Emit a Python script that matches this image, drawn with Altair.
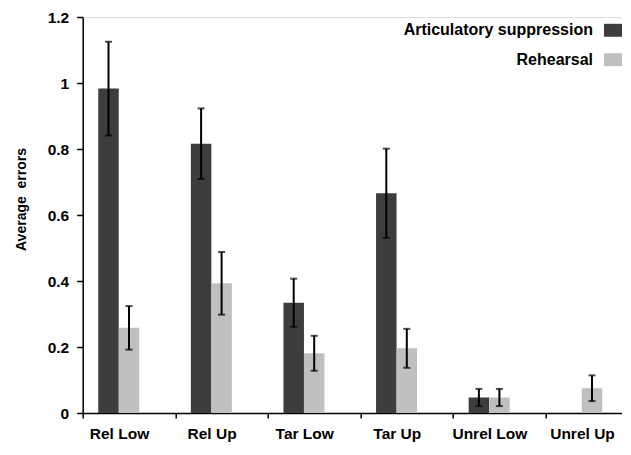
import altair as alt
import pandas as pd

categories = ["Rel Low", "Rel Up", "Tar Low", "Tar Up", "Unrel Low", "Unrel Up"]
conditions = ["Articulatory suppression", "Rehearsal"]
as_means = [0.983, 0.816, 0.334, 0.666, 0.047, None]
as_errs = [0.142, 0.107, 0.073, 0.135, 0.026, None]
reh_means = [0.258, 0.393, 0.181, 0.196, 0.047, 0.075]
reh_errs = [0.066, 0.095, 0.053, 0.059, 0.026, 0.039]
colors = ["#3d3d3d", "#bfbfbf"]
y_ticks = [0, 0.2, 0.4, 0.6, 0.8, 1.0, 1.2]

rows = []
for i, c in enumerate(categories):
    if as_means[i] is not None:
        rows.append({"cat": c, "cond": conditions[0], "mean": as_means[i], "err": as_errs[i]})
    if reh_means[i] is not None:
        rows.append({"cat": c, "cond": conditions[1], "mean": reh_means[i], "err": reh_errs[i]})
df = pd.DataFrame(rows)

FONT = "Liberation Sans"

x_enc = alt.X(
    "cat:N",
    sort=categories,
    # the original's last category runs past the right edge of the picture
    scale=alt.Scale(paddingInner=0, paddingOuter=0, range=[0, 555.6]),
    axis=alt.Axis(
        title=None,
        ticks=True,
        tickBand="extent",
        labelOffset={"expr": "-10"},
        labelAngle=0,
        labelPadding=8,
        tickSize=5,
        tickColor="black",
        tickWidth=1.5,
        domainColor="black",
        domainWidth=1.5,
        labelFont=FONT,
        labelFontSize=15.5,
        labelFontWeight="bold",
        labelColor="black",
        labelOverlap=False,
        labelBound=False,
    ),
)
# an empty third slot after the two bars leaves the gap that the original has
xo_enc = alt.XOffset(
    "cond:N",
    scale=alt.Scale(domain=conditions + ["_gap"], paddingInner=0, paddingOuter=0.7585),
)
y_enc = alt.Y(
    "mean:Q",
    scale=alt.Scale(domain=[0, 1.2], nice=False),
    axis=alt.Axis(
        title="Average\u00a0\u00a0errors",
        values=y_ticks,
        format="~g",
        grid=False,
        tickSize=6,
        tickColor="black",
        tickWidth=1.5,
        domainColor="black",
        domainWidth=1.5,
        labelFont=FONT,
        labelFontSize=15.5,
        labelFontWeight="bold",
        labelColor="black",
        labelPadding=8,
        titleFont=FONT,
        titleFontSize=14,
        titleFontWeight="bold",
        titleColor="black",
        titlePadding=19,
        titleY=182,
    ),
)

bars = alt.Chart(df).mark_bar().encode(
    x=x_enc,
    xOffset=xo_enc,
    y=y_enc,
    color=alt.Color(
        "cond:N",
        scale=alt.Scale(domain=conditions, range=colors),
        legend=alt.Legend(
            title=None,
            orient="none",
            legendX=521.3,
            legendY=4.3,
            padding=0,
            symbolType="M-1,-0.72H1V0.72H-1Z",
            symbolSize=324,
            symbolStrokeWidth=0,
            symbolOpacity=1,
            labelAlign="right",
            labelOffset={"expr": "-29"},
            labelFont=FONT,
            labelFontSize=16,
            labelFontWeight="bold",
            labelColor="black",
            labelLimit=400,
            rowPadding=12.4,
        ),
    ),
)

base = alt.Chart(df).transform_calculate(
    lo="datum.mean - datum.err", hi="datum.mean + datum.err"
)

err_rule = base.mark_rule(color="black", strokeWidth=2).encode(
    x=x_enc, xOffset=xo_enc, y=alt.Y("lo:Q"), y2="hi:Q"
)
cap_hi = base.mark_tick(color="black", size=7, thickness=2).encode(
    x=x_enc, xOffset=xo_enc, y=alt.Y("hi:Q")
)
cap_lo = base.mark_tick(color="black", size=7, thickness=2).encode(
    x=x_enc, xOffset=xo_enc, y=alt.Y("lo:Q")
)

chart = (
    alt.layer(bars, err_rule, cap_hi, cap_lo)
    .properties(
        width=539.3,
        height=396,
        autosize=alt.AutoSizeParams(type="none"),
        padding={"left": 74.7, "top": 9, "right": 0, "bottom": 29},
    )
    .configure_view(stroke=None)
    .configure(background="white")
)

chart.save("out.html", embed_options={"renderer": "svg", "actions": False})
